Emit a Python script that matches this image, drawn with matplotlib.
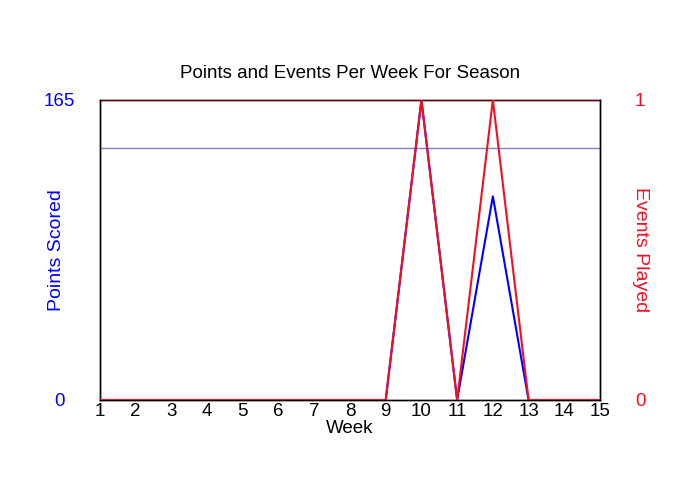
import numpy as np
import matplotlib.pyplot as plt

plt.rcParams['font.family'] = ['Liberation Sans', 'DejaVu Sans']

weeks = list(range(1, 16))
points = [0, 0, 0, 0, 0, 0, 0, 0, 0, 165, 0, 112, 0, 0, 0]
events = [0, 0, 0, 0, 0, 0, 0, 0, 0, 1, 0, 1, 0, 0, 0]
avg_points = 138.5  # points per event played

fig = plt.figure(figsize=(7, 5), dpi=100)
ax = fig.add_axes([100/700, 0.2, 500/700, 0.6])
ax2 = ax.twinx()

ax.plot(weeks, points, color='#0000ff', lw=1.5, zorder=3)
ax.axhline(avg_points, color='#8080c0', lw=1, zorder=2)
ax2.plot(weeks, events, color='#f01020', lw=1.5, zorder=4)

ax.set_xlim(1, 15)
ax.set_ylim(0, 165)
ax2.set_ylim(0, 1)
ax.set_xticks(weeks)
ax.set_yticks([0, 165])
ax2.set_yticks([0, 1])

ax.tick_params(axis='x', length=0, pad=2, labelsize=13.5)
ax.tick_params(axis='y', length=0, pad=29, labelsize=13.5, labelcolor='#0000ff')
ax2.tick_params(axis='y', length=0, pad=29, labelsize=13.5, labelcolor='#f01020')
for lab in ax.get_yticklabels():
    lab.set_ha('center')
for lab in ax2.get_yticklabels():
    lab.set_ha('center')

ax.set_xlabel('Week', fontsize=13.5, labelpad=0)
ax.set_ylabel('Points Scored', fontsize=14, color='#0000ff')
ax.yaxis.set_label_coords(-0.07, 0.5)
ax2.set_ylabel('Events Played', fontsize=14, color='#f01020', rotation=270, va='center')
ax2.yaxis.set_label_coords(1.08, 0.5)

for a in (ax, ax2):
    for s in a.spines.values():
        s.set_color('black')
        s.set_linewidth(1)
    a.spines['top'].set_color('#5a0008')
    a.spines['top'].set_zorder(1)

ax.set_title('Points and Events Per Week For Season', fontsize=13.5, pad=16)

fig.savefig('out.png', dpi=100)
